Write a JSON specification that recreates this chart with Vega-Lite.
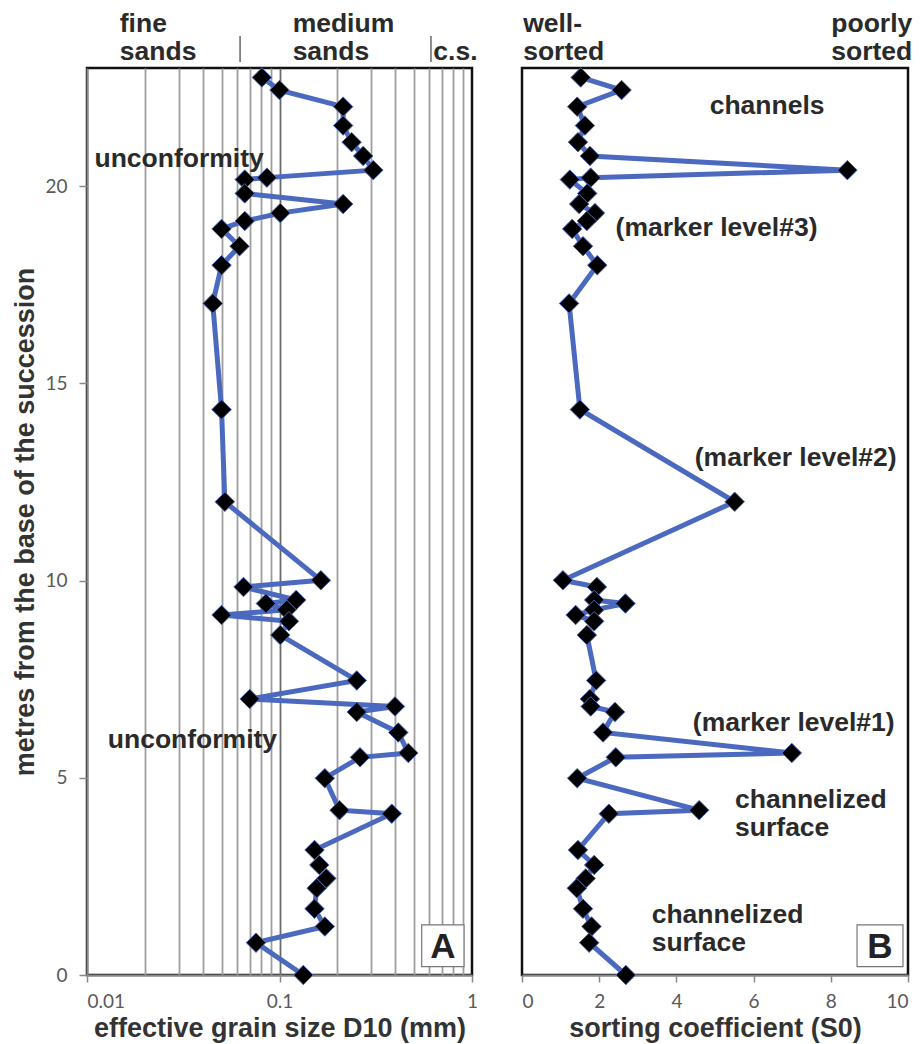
{
  "$schema": "https://vega.github.io/schema/vega-lite/v6.json",
  "padding": {"left": 10, "top": 9, "right": 5, "bottom": 5},
  "background": "white",
  "spacing": 41,
  "config": {
    "view": {"stroke": "#111", "strokeWidth": 2.5},
    "axis": {
      "labelFont": "Lato", "labelFontSize": 19, "labelColor": "#595959",
      "titleFont": "Liberation Sans", "titleFontSize": 27, "titleFontWeight": "bold", "titleColor": "#333",
      "domainColor": "#888", "domainWidth": 2, "tickColor": "#888", "tickWidth": 1.5, "tickSize": 7
    },
    "text": {"font": "Liberation Sans", "fontWeight": "bold", "fontSize": 26.5, "color": "#2a2a2a", "lineBreak": "\n", "lineHeight": 28}
  },
  "datasets": {
    "samples": [
      {"s": 1, "depth": 22.76, "d10": 0.081, "s0": 1.52},
      {"s": 2, "depth": 22.44, "d10": 0.100, "s0": 2.58},
      {"s": 3, "depth": 22.02, "d10": 0.214, "s0": 1.43},
      {"s": 4, "depth": 21.54, "d10": 0.214, "s0": 1.63},
      {"s": 5, "depth": 21.12, "d10": 0.237, "s0": 1.45},
      {"s": 6, "depth": 20.77, "d10": 0.272, "s0": 1.76},
      {"s": 7, "depth": 20.41, "d10": 0.307, "s0": 8.43},
      {"s": 8, "depth": 20.22, "d10": 0.086, "s0": 1.78},
      {"s": 9, "depth": 20.17, "d10": 0.066, "s0": 1.24},
      {"s": 10, "depth": 19.82, "d10": 0.066, "s0": 1.69},
      {"s": 11, "depth": 19.55, "d10": 0.214, "s0": 1.48},
      {"s": 12, "depth": 19.32, "d10": 0.101, "s0": 1.89},
      {"s": 13, "depth": 19.12, "d10": 0.066, "s0": 1.68},
      {"s": 14, "depth": 18.92, "d10": 0.050, "s0": 1.30},
      {"s": 15, "depth": 18.48, "d10": 0.062, "s0": 1.58},
      {"s": 16, "depth": 18.00, "d10": 0.050, "s0": 1.95},
      {"s": 17, "depth": 17.03, "d10": 0.045, "s0": 1.22},
      {"s": 18, "depth": 14.34, "d10": 0.050, "s0": 1.50},
      {"s": 19, "depth": 12.00, "d10": 0.052, "s0": 5.51},
      {"s": 20, "depth": 10.01, "d10": 0.164, "s0": 1.06},
      {"s": 21, "depth": 9.84, "d10": 0.065, "s0": 1.94},
      {"s": 22, "depth": 9.51, "d10": 0.122, "s0": 1.87},
      {"s": 23, "depth": 9.42, "d10": 0.085, "s0": 2.68},
      {"s": 24, "depth": 9.26, "d10": 0.109, "s0": 1.87},
      {"s": 25, "depth": 9.13, "d10": 0.050, "s0": 1.39},
      {"s": 26, "depth": 8.97, "d10": 0.112, "s0": 1.87},
      {"s": 27, "depth": 8.62, "d10": 0.101, "s0": 1.68},
      {"s": 28, "depth": 7.47, "d10": 0.252, "s0": 1.92},
      {"s": 29, "depth": 7.00, "d10": 0.070, "s0": 1.76},
      {"s": 30, "depth": 6.81, "d10": 0.398, "s0": 1.78},
      {"s": 31, "depth": 6.67, "d10": 0.252, "s0": 2.41},
      {"s": 32, "depth": 6.15, "d10": 0.414, "s0": 2.10},
      {"s": 33, "depth": 5.63, "d10": 0.467, "s0": 6.99},
      {"s": 34, "depth": 5.52, "d10": 0.262, "s0": 2.43},
      {"s": 35, "depth": 4.99, "d10": 0.172, "s0": 1.43},
      {"s": 36, "depth": 4.18, "d10": 0.205, "s0": 4.59},
      {"s": 37, "depth": 4.09, "d10": 0.383, "s0": 2.25},
      {"s": 38, "depth": 3.17, "d10": 0.152, "s0": 1.45},
      {"s": 39, "depth": 2.79, "d10": 0.161, "s0": 1.87},
      {"s": 40, "depth": 2.45, "d10": 0.175, "s0": 1.65},
      {"s": 41, "depth": 2.20, "d10": 0.156, "s0": 1.42},
      {"s": 42, "depth": 1.68, "d10": 0.152, "s0": 1.58},
      {"s": 43, "depth": 1.23, "d10": 0.172, "s0": 1.80},
      {"s": 44, "depth": 0.82, "d10": 0.0755, "s0": 1.74},
      {"s": 45, "depth": 0.00, "d10": 0.133, "s0": 2.69}
    ]
  },
  "hconcat": [
    {
      "width": 385,
      "height": 907,
      "layer": [
        {
          "data": {"name": "samples"},
          "encoding": {
            "x": {
              "field": "d10", "type": "quantitative",
              "scale": {"type": "log", "domain": [0.01, 1], "nice": false},
              "axis": {
                "title": "effective grain size D10 (mm)",
                "values": [0.01, 0.02, 0.03, 0.04, 0.05, 0.06, 0.07, 0.08, 0.09, 0.1, 0.2, 0.3, 0.4, 0.5, 0.6, 0.7, 0.8, 0.9, 1],
                "grid": true,
                "gridColor": {"condition": {"test": "datum.value == 0.1", "value": "#6a6a6a"}, "value": "#9e9e9e"},
                "gridWidth": 1.8,
                "gridOpacity": {"condition": {"test": "datum.value == 0.01 || datum.value == 1", "value": 0}, "value": 1},
                "tickOpacity": {"condition": {"test": "datum.value == 0.01 || datum.value == 0.1 || datum.value == 1", "value": 1}, "value": 0},
                "labelExpr": "datum.value == 0.01 ? '0.01' : datum.value == 0.1 ? '0.1' : datum.value == 1 ? '1' : ''",
                "labelAlign": {"condition": {"test": "datum.value == 0.01", "value": "left"}, "value": "center"},
                "labelOverlap": false,
                "labelPadding": 10,
                "titlePadding": 4
              }
            },
            "y": {
              "field": "depth", "type": "quantitative",
              "scale": {"domain": [0, 23], "nice": false, "zero": false},
              "axis": {
                "title": "metres from the base of the succession",
                "values": [0, 5, 10, 15, 20],
                "grid": false,
                "tickSize": 8,
                "labelPadding": 12,
                "titlePadding": 5
              }
            },
            "order": {"field": "s", "type": "quantitative"}
          },
          "layer": [
            {"mark": {"type": "line", "color": "#4b69bf", "strokeWidth": 5}},
            {"mark": {"type": "point", "shape": "diamond", "filled": true, "fill": "#000", "stroke": "#4b69bf", "strokeWidth": 1, "size": 380, "opacity": 1}}
          ]
        },
        {
          "data": {"values": [{"x": 0.0624, "y": 23.15, "y2": 23.81}, {"x": 0.612, "y": 23.15, "y2": 23.81}]},
          "mark": {"type": "rule", "color": "#666", "strokeWidth": 1.5},
          "encoding": {
            "x": {"field": "x", "type": "quantitative"},
            "y": {"field": "y", "type": "quantitative"},
            "y2": {"field": "y2"}
          }
        },
        {
          "data": {"values": [{"x": 0.0301, "y": 20.69, "t": "unconformity"}, {"x": 0.0353, "y": 5.96, "t": "unconformity"}]},
          "mark": {"type": "text", "align": "center", "baseline": "middle"},
          "encoding": {
            "x": {"field": "x", "type": "quantitative"},
            "y": {"field": "y", "type": "quantitative"},
            "text": {"field": "t"}
          }
        },
        {
          "data": {"values": [{"x": 0.0148, "y": 24.11, "t": "fine\nsands"}, {"x": 0.117, "y": 24.11, "t": "medium\nsands"}, {"x": 0.63, "y": 23.40, "t": "c.s."}]},
          "mark": {"type": "text", "align": "left", "baseline": "middle"},
          "encoding": {
            "x": {"field": "x", "type": "quantitative"},
            "y": {"field": "y", "type": "quantitative"},
            "text": {"field": "t"}
          }
        },
        {
          "data": {"values": [{"x": 0.548, "x2": 0.909, "y": 0.21, "y2": 1.27}]},
          "mark": {"type": "rect", "fill": "white", "stroke": "#777", "strokeWidth": 1.2},
          "encoding": {
            "x": {"field": "x", "type": "quantitative"},
            "x2": {"field": "x2"},
            "y": {"field": "y", "type": "quantitative"},
            "y2": {"field": "y2"}
          }
        },
        {
          "data": {"values": [{"x": 0.706, "y": 0.72, "t": "A"}]},
          "mark": {"type": "text", "align": "center", "baseline": "middle", "fontSize": 35, "color": "#222"},
          "encoding": {
            "x": {"field": "x", "type": "quantitative"},
            "y": {"field": "y", "type": "quantitative"},
            "text": {"field": "t"}
          }
        }
      ]
    },
    {
      "width": 386,
      "height": 907,
      "layer": [
        {
          "data": {"name": "samples"},
          "encoding": {
            "x": {
              "field": "s0", "type": "quantitative",
              "scale": {"domain": [0, 10], "nice": false},
              "axis": {
                "title": "sorting coefficient (S0)",
                "values": [0, 2, 4, 6, 8, 10],
                "grid": false,
                "labelPadding": 10,
                "titlePadding": 4
              }
            },
            "y": {
              "field": "depth", "type": "quantitative",
              "scale": {"domain": [0, 23], "nice": false, "zero": false},
              "axis": {"title": null, "labels": false, "ticks": false, "domain": false, "grid": false}
            },
            "order": {"field": "s", "type": "quantitative"}
          },
          "layer": [
            {"mark": {"type": "line", "color": "#4b69bf", "strokeWidth": 5}},
            {"mark": {"type": "point", "shape": "diamond", "filled": true, "fill": "#000", "stroke": "#4b69bf", "strokeWidth": 1, "size": 380, "opacity": 1}}
          ]
        },
        {
          "data": {"values": [
            {"x": 6.35, "y": 22.04, "t": "channels"},
            {"x": 5.04, "y": 18.93, "t": "(marker level#3)"},
            {"x": 7.09, "y": 13.11, "t": "(marker level#2)"},
            {"x": 7.04, "y": 6.39, "t": "(marker level#1)"}
          ]},
          "mark": {"type": "text", "align": "center", "baseline": "middle"},
          "encoding": {
            "x": {"field": "x", "type": "quantitative"},
            "y": {"field": "y", "type": "quantitative"},
            "text": {"field": "t"}
          }
        },
        {
          "data": {"values": [
            {"x": 0.03, "y": 24.11, "t": "well-\nsorted"},
            {"x": 5.52, "y": 4.44, "t": "channelized\nsurface"},
            {"x": 3.36, "y": 1.52, "t": "channelized\nsurface"}
          ]},
          "mark": {"type": "text", "align": "left", "baseline": "middle"},
          "encoding": {
            "x": {"field": "x", "type": "quantitative"},
            "y": {"field": "y", "type": "quantitative"},
            "text": {"field": "t"}
          }
        },
        {
          "data": {"values": [{"x": 10.11, "y": 24.11, "t": "poorly\nsorted"}]},
          "mark": {"type": "text", "align": "right", "baseline": "middle"},
          "encoding": {
            "x": {"field": "x", "type": "quantitative"},
            "y": {"field": "y", "type": "quantitative"},
            "text": {"field": "t"}
          }
        },
        {
          "data": {"values": [{"x": 8.68, "x2": 9.87, "y": 0.21, "y2": 1.27}]},
          "mark": {"type": "rect", "fill": "white", "stroke": "#777", "strokeWidth": 1.2},
          "encoding": {
            "x": {"field": "x", "type": "quantitative"},
            "x2": {"field": "x2"},
            "y": {"field": "y", "type": "quantitative"},
            "y2": {"field": "y2"}
          }
        },
        {
          "data": {"values": [{"x": 9.27, "y": 0.72, "t": "B"}]},
          "mark": {"type": "text", "align": "center", "baseline": "middle", "fontSize": 35, "color": "#222"},
          "encoding": {
            "x": {"field": "x", "type": "quantitative"},
            "y": {"field": "y", "type": "quantitative"},
            "text": {"field": "t"}
          }
        }
      ]
    }
  ]
}
